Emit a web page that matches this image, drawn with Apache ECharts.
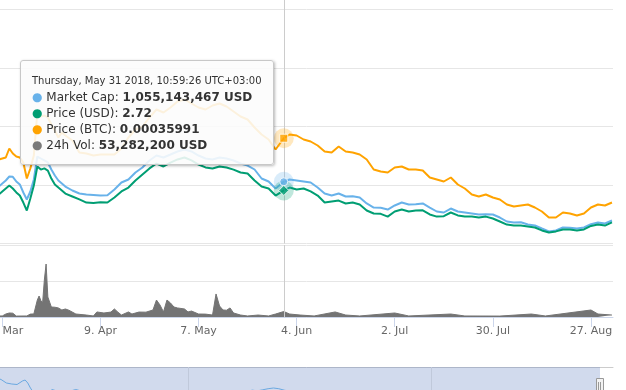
<!DOCTYPE html>
<html><head><meta charset="utf-8">
<script src="https://cdn.jsdelivr.net/npm/echarts@6/dist/echarts.min.js"></script>
<style>html,body{margin:0;padding:0;background:#fff}#c{width:626px;height:390px}</style>
</head><body><div id="c"></div>
<script>
const dates = ['2018-03-10','2018-03-11','2018-03-12','2018-03-13','2018-03-14','2018-03-15','2018-03-16','2018-03-17','2018-03-18','2018-03-19','2018-03-20','2018-03-21','2018-03-22','2018-03-23','2018-03-24','2018-03-25','2018-03-26','2018-03-27','2018-03-28','2018-03-29','2018-03-30',
'2018-04-01','2018-04-03','2018-04-05','2018-04-07','2018-04-09','2018-04-11','2018-04-13','2018-04-15','2018-04-17','2018-04-19','2018-04-21','2018-04-23','2018-04-25','2018-04-27','2018-04-29',
'2018-05-01','2018-05-03','2018-05-05','2018-05-07','2018-05-09','2018-05-11','2018-05-13','2018-05-15','2018-05-17','2018-05-19','2018-05-21','2018-05-23','2018-05-25','2018-05-27','2018-05-29',
'2018-05-31T07:59:26Z',
'2018-06-02','2018-06-04','2018-06-06','2018-06-08','2018-06-10','2018-06-12','2018-06-14','2018-06-16','2018-06-18','2018-06-20','2018-06-22','2018-06-24','2018-06-26','2018-06-28','2018-06-30',
'2018-07-02','2018-07-04','2018-07-06','2018-07-08','2018-07-10','2018-07-12','2018-07-14','2018-07-16','2018-07-18','2018-07-20','2018-07-22','2018-07-24','2018-07-26','2018-07-28','2018-07-30',
'2018-08-01','2018-08-03','2018-08-05','2018-08-07','2018-08-09','2018-08-11','2018-08-13','2018-08-15','2018-08-17','2018-08-19','2018-08-21','2018-08-23','2018-08-25','2018-08-27','2018-08-29','2018-08-31',
'2018-09-02'];

// Market cap, millions USD
const marketCapM = [940,974,1026,1077,1145,1140,1060,1009,872,752,889,1094,1487,1453,1419,1385,1265,1162,1077,1026,974,
906,855,838,830,821,825,923,1043,1094,1214,1299,1419,1504,1470,1521,
1573,1607,1573,1504,1453,1436,1470,1453,1419,1368,1333,1265,1111,1060,940,
1055.143467,
1094,1077,1060,1043,957,855,821,855,803,806,786,684,615,612,581,
650,701,667,670,684,615,547,530,598,547,530,513,496,500,496,
444,376,359,362,325,308,256,205,222,274,271,256,274,330,359,342,
393];

// Price, USD
const priceUSD = [2.41,2.51,2.67,2.82,2.97,2.82,2.62,2.46,2.10,1.69,2.31,2.97,3.95,3.79,3.85,3.74,3.33,3.03,2.87,2.72,2.56,
2.41,2.26,2.10,2.08,2.12,2.10,2.36,2.67,2.87,3.23,3.54,3.85,4.10,3.95,4.15,
4.31,4.41,4.26,4.05,3.90,3.85,3.95,3.90,3.79,3.64,3.59,3.23,2.92,2.82,2.46,
2.72,
2.87,2.77,2.82,2.67,2.46,2.10,2.15,2.20,2.05,2.10,2.00,1.69,1.54,1.52,1.38,
1.64,1.74,1.64,1.69,1.70,1.49,1.38,1.40,1.59,1.44,1.38,1.38,1.33,1.38,1.28,
1.13,0.97,0.92,0.92,0.87,0.82,0.67,0.56,0.62,0.72,0.72,0.67,0.72,0.90,0.97,0.92,
1.08];

// Price, BTC
const priceBTC = [0.00028376,0.00028718,0.00029060,0.00029402,0.00032479,0.00030769,0.00029744,0.00029402,0.00027692,0.00022222,0.00025641,0.00030085,0.00044786,0.00043419,0.00043761,0.00043077,0.00040684,0.00038632,0.00036239,0.00037949,0.00036923,
0.00035214,0.00031111,0.00030769,0.00030085,0.00030427,0.00030427,0.00030427,0.00032479,0.00036239,0.00038974,0.00040000,0.00043077,0.00045812,0.00044786,0.00046496,
0.00048547,0.00049231,0.00047863,0.00046496,0.00045812,0.00047180,0.00047863,0.00046838,0.00045128,0.00043419,0.00042393,0.00039658,0.00037265,0.00035556,0.00032137,
0.00035991,
0.00037265,0.00036923,0.00035556,0.00034872,0.00033504,0.00031453,0.00031111,0.00033162,0.00031453,0.00031111,0.00030427,0.00028718,0.00025299,0.00024615,0.00024274,
0.00025983,0.00026325,0.00025299,0.00025300,0.00024957,0.00022564,0.00021880,0.00021197,0.00022564,0.00020171,0.00018803,0.00016752,0.00016068,0.00016752,0.00015726,
0.00015043,0.00013333,0.00012650,0.00012991,0.00013333,0.00012308,0.00010940,0.00008889,0.00008890,0.00010598,0.00010256,0.00009573,0.00010256,0.00012308,0.00013333,0.00012991,
0.00014017];

// 24h volume, millions USD
const volDates = ['2018-03-10','2018-03-12','2018-03-13','2018-03-14','2018-03-15','2018-03-16','2018-03-19','2018-03-20','2018-03-21','2018-03-22','2018-03-22T12:00:00Z','2018-03-23','2018-03-23T12:00:00Z','2018-03-24','2018-03-24T12:00:00Z','2018-03-25','2018-03-26','2018-03-27','2018-03-28','2018-03-29','2018-03-30','2018-03-31','2018-04-02','2018-04-05','2018-04-07','2018-04-08','2018-04-10','2018-04-12','2018-04-13','2018-04-14','2018-04-15','2018-04-17','2018-04-18','2018-04-20','2018-04-22','2018-04-24','2018-04-25','2018-04-26','2018-04-27','2018-04-28','2018-04-29','2018-04-30','2018-05-01','2018-05-03','2018-05-04','2018-05-05','2018-05-07','2018-05-09','2018-05-11','2018-05-12','2018-05-13','2018-05-14','2018-05-15','2018-05-16','2018-05-17','2018-05-19','2018-05-21','2018-05-24','2018-05-27','2018-05-29','2018-05-31T07:59:26Z','2018-06-02','2018-06-05','2018-06-09','2018-06-15','2018-06-18','2018-06-22','2018-07-02','2018-07-06','2018-07-18','2018-07-22','2018-08-01','2018-08-10','2018-08-14','2018-08-27','2018-08-29','2018-09-02'];
const volumeM = [9.7,10.2,29,39,37,9,10,28,30,165,204,160,136,360,515,194,97,95,88,68,78,66,29,19,10,49,39,48,78,47,19,49,29,48,47,68,165,117,49,165,136,97,88,78,49,58,29,28,19,224,107,68,66,88,39,19,10,19,10,29,53.2822,29,19,10,49,19,10,39,10,29,10,9,29,10,68,29,19];

// Navigator history before the main window (market cap, millions USD)
const navHistDates = ['2018-01-20','2018-01-21','2018-01-23','2018-01-25','2018-01-27','2018-01-29','2018-01-30','2018-01-31','2018-02-01','2018-02-02','2018-02-04','2018-02-06','2018-02-09','2018-02-11','2018-02-13','2018-02-16','2018-02-18','2018-02-20','2018-02-22','2018-02-25','2018-02-28','2018-03-03','2018-03-06','2018-03-08'];
const navHistCapM = [2063,2015,1847,1799,1775,1943,1991,1847,1607,1415,1223,1031,1535,1463,1271,1463,1535,1463,1223,1175,1175,1223,1127,1031];

const tickDates = ['2018-03-12','2018-04-09','2018-05-07','2018-06-04','2018-07-02','2018-07-30','2018-08-27'];
const navGridDates = ['2018-04-01','2018-07-01'];
const viewStart = '2018-03-11T08:15:00Z', viewEnd = '2018-09-02T07:00:00Z';
const navStart = '2018-01-20T14:24:00Z', navEnd = '2018-09-07T03:50:00Z';
const hoverDate = '2018-05-31T07:59:26Z';

const T = s => Date.parse(s.length === 10 ? s + 'T00:00:00Z' : s);
const MON = ['Jan','Feb','Mar','Apr','May','Jun','Jul','Aug','Sep','Oct','Nov','Dec'];
const MONF = ['January','February','March','April','May','June','July','August','September','October','November','December'];
const DAYS = ['Sunday','Monday','Tuesday','Wednesday','Thursday','Friday','Saturday'];
const C = {cap:'#68b2ea', usd:'#009e73', btc:'#ffa300', vol:'#747474', nav:'#6aa8e0'};

const pts = arr => dates.map((d, i) => [T(d), arr[i]]);
const hi = dates.indexOf(hoverDate);
const hx = T(hoverDate);
const vhi = volDates.indexOf(hoverDate);

const chart = echarts.init(document.getElementById('c'), null, {renderer: 'canvas'});
const FONT = 'DejaVu Sans';
const cross = {silent: true, symbol: 'none', label: {show: false}, animation: false,
  lineStyle: {color: '#cccccc', width: 1, type: 'solid'}, emphasis: {disabled: true}, data: [{xAxis: hx}]};

function lineSeries(name, arr, yi, color) {
  return {name, type: 'line', xAxisIndex: 0, yAxisIndex: yi, data: pts(arr), showSymbol: false, silent: true,
    lineStyle: {width: 2, color}, itemStyle: {color}, z: 3};
}
function halo(yi, val, color) {
  return {type: 'scatter', xAxisIndex: 0, yAxisIndex: yi, data: [[hx, val]], symbol: 'circle', symbolSize: 20,
    itemStyle: {color, opacity: 0.25}, silent: true, z: 5};
}
function marker(yi, val, color, symbol, size) {
  return {type: 'scatter', xAxisIndex: 0, yAxisIndex: yi, data: [[hx, val]], symbol, symbolSize: size,
    itemStyle: {color, borderColor: '#ffffff', borderWidth: 1}, z: 6};
}

const capS = lineSeries('Market Cap', marketCapM, 0, C.cap);
capS.markLine = cross;
const navData = navHistDates.map((d, i) => [T(d), navHistCapM[i]]).concat(pts(marketCapM));

const fmtInt = n => Math.round(n).toLocaleString('en-US');
const pad = n => String(n).padStart(2, '0');
function tipHtml() {
  const L = new Date(hx + 3 * 3600e3);
  const head = `${DAYS[L.getUTCDay()]}, ${MONF[L.getUTCMonth()]} ${L.getUTCDate()} ${L.getUTCFullYear()}, ${pad(L.getUTCHours())}:${pad(L.getUTCMinutes())}:${pad(L.getUTCSeconds())} UTC+03:00`;
  const row = (c, label, v) => `<div style="line-height:16px;white-space:nowrap"><span style="color:${c}">\u25CF</span> ${label}: <b>${v}</b></div>`;
  return `<div style="font-size:10px;line-height:16px;white-space:nowrap">${head}</div>` +
    row(C.cap, 'Market Cap', fmtInt(marketCapM[hi] * 1e6) + ' USD') +
    row(C.usd, 'Price (USD)', priceUSD[hi].toFixed(2)) +
    row(C.btc, 'Price (BTC)', priceBTC[hi].toFixed(8)) +
    row('#7a7a7a', '24h Vol', fmtInt(volumeM[vhi] * 1e6) + ' USD');
}

const option = {
  animation: false,
  backgroundColor: '#ffffff',
  textStyle: {fontFamily: FONT},
  grid: [
    {left: 0, right: 13, top: -49, height: 292.5, containLabel: false, outerBoundsMode: 'none'},
    {left: 0, right: 13, top: 245, height: 72, containLabel: false, outerBoundsMode: 'none'},
    {left: 0, right: 13, top: 367, height: 40, containLabel: false, outerBoundsMode: 'none'}
  ],
  xAxis: [
    {gridIndex: 0, type: 'value', min: T(viewStart), max: T(viewEnd), show: false},
    {gridIndex: 1, type: 'value', min: T(viewStart), max: T(viewEnd),
      axisLine: {show: true, lineStyle: {color: '#ccd6eb'}},
      axisTick: {show: true, customValues: tickDates.map(T), length: 10, lineStyle: {color: '#ccd6eb'}},
      axisLabel: {show: true, customValues: tickDates.map(T), color: '#666666', fontSize: 11, fontFamily: FONT, margin: 9,
        formatter: v => { const d = new Date(v); return d.getUTCDate() + '. ' + MON[d.getUTCMonth()]; }},
      splitLine: {show: false}},
    {gridIndex: 2, type: 'value', min: T(navStart), max: T(navEnd), position: 'top',
      axisLine: {show: true, lineStyle: {color: '#cccccc'}}, axisTick: {show: false}, axisLabel: {show: false}, splitLine: {show: false}}
  ],
  yAxis: [
    {gridIndex: 0, type: 'value', min: 0, max: 5000, interval: 1000, axisLabel: {show: false}, axisLine: {show: false}, axisTick: {show: false},
      splitLine: {show: true, lineStyle: {color: '#e6e6e6', width: 1}}},
    {gridIndex: 0, type: 'value', min: 0, max: 15, show: false, splitLine: {show: false}},
    {gridIndex: 0, type: 'value', min: 0, max: 0.001, show: false, splitLine: {show: false}},
    {gridIndex: 1, type: 'value', min: 0, max: 700, interval: 350, axisLabel: {show: false}, axisLine: {show: false}, axisTick: {show: false},
      splitLine: {show: true, lineStyle: {color: '#e6e6e6', width: 1}}},
    {gridIndex: 2, type: 'value', min: 695, max: 2615, show: false, splitLine: {show: false}}
  ],
  tooltip: {
    show: true, trigger: 'item', triggerOn: 'none', alwaysShowContent: true, position: [20, 60],
    transitionDuration: 0, enterable: false,
    backgroundColor: 'rgba(252,252,252,0.88)', borderColor: '#c8c8c8', borderWidth: 1, padding: [12, 11, 11, 11],
    textStyle: {fontFamily: FONT, fontSize: 12, color: '#333333'},
    extraCssText: 'box-shadow:1px 1px 3px rgba(0,0,0,0.28);border-radius:3px;',
    formatter: tipHtml
  },
  series: [
    capS,
    lineSeries('Price (USD)', priceUSD, 1, C.usd),
    lineSeries('Price (BTC)', priceBTC, 2, C.btc),
    {name: '24h Vol', type: 'line', xAxisIndex: 1, yAxisIndex: 3, data: volDates.map((d, i) => [T(d), volumeM[i]]),
      showSymbol: false, silent: true, lineStyle: {width: 1, color: C.vol}, itemStyle: {color: C.vol},
      areaStyle: {color: C.vol, opacity: 1}, markLine: cross},
    {name: 'nav', type: 'line', xAxisIndex: 2, yAxisIndex: 4, data: navData, showSymbol: false, silent: true,
      lineStyle: {width: 1, color: C.nav}, itemStyle: {color: C.nav},
      markArea: {silent: true, itemStyle: {color: 'rgba(102,133,194,0.3)'}, data: [[{xAxis: T(navStart)}, {xAxis: T(viewEnd)}]]},
      markLine: {silent: true, symbol: 'none', label: {show: false}, animation: false,
        lineStyle: {color: '#c0c9db', width: 1, type: 'solid'}, data: navGridDates.map(d => ({xAxis: T(d)}))}},
    halo(0, marketCapM[hi], C.cap),
    halo(1, priceUSD[hi], C.usd),
    halo(2, priceBTC[hi], C.btc),
    marker(0, marketCapM[hi], C.cap, 'circle', 8),
    marker(1, priceUSD[hi], C.usd, 'diamond', 10),
    marker(2, priceBTC[hi], C.btc, 'rect', 8)
  ]
};
chart.setOption(option);

const handleX = chart.convertToPixel({xAxisIndex: 2}, T(viewEnd));
chart.setOption({graphic: [
  {type: 'rect', shape: {x: Math.round(handleX) - 3.5, y: 378.5, width: 7, height: 15}, style: {fill: '#f2f2f2', stroke: '#999999', lineWidth: 1}, z: 100},
  {type: 'line', shape: {x1: Math.round(handleX) - 1.5, y1: 382, x2: Math.round(handleX) - 1.5, y2: 390}, style: {stroke: '#999999', lineWidth: 1}, z: 101},
  {type: 'line', shape: {x1: Math.round(handleX) + 0.5, y1: 382, x2: Math.round(handleX) + 0.5, y2: 390}, style: {stroke: '#999999', lineWidth: 1}, z: 101}
]});

const markerSeriesIndex = option.series.length - 3;
chart.dispatchAction({type: 'showTip', seriesIndex: markerSeriesIndex, dataIndex: 0});
</script>
</body></html>
